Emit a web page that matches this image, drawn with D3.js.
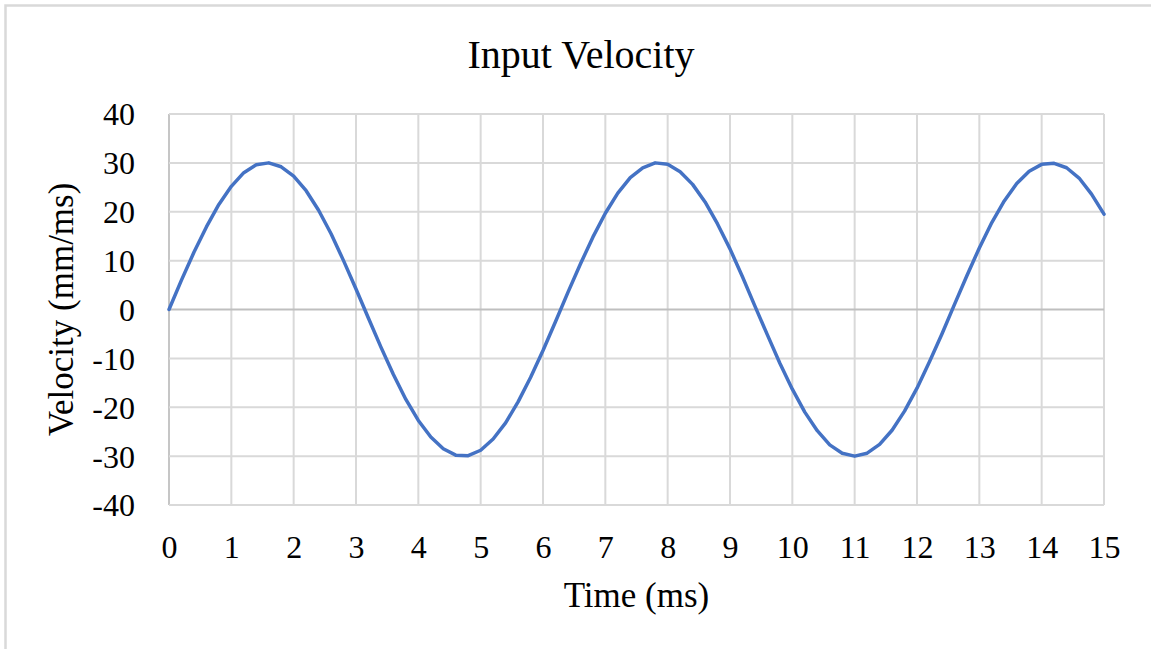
<!DOCTYPE html>
<html>
<head>
<meta charset="utf-8">
<script src="https://cdn.jsdelivr.net/npm/d3@7"></script>
<style>
  body { margin: 0; background: #fff; }
  svg { display: block; font-family: "Liberation Serif", "Times New Roman", serif; }
</style>
</head>
<body>
<div id="chart"></div>
<script>
// time samples (ms)
var timeMs = [0, 0.2, 0.4, 0.6, 0.8, 1, 1.2, 1.4, 1.6, 1.8, 2, 2.2, 2.4, 2.6, 2.8, 3, 3.2, 3.4, 3.6, 3.8,
  4, 4.2, 4.4, 4.6, 4.8, 5, 5.2, 5.4, 5.6, 5.8, 6, 6.2, 6.4, 6.6, 6.8, 7, 7.2, 7.4, 7.6, 7.8,
  8, 8.2, 8.4, 8.6, 8.8, 9, 9.2, 9.4, 9.6, 9.8, 10, 10.2, 10.4, 10.6, 10.8, 11, 11.2, 11.4, 11.6, 11.8,
  12, 12.2, 12.4, 12.6, 12.8, 13, 13.2, 13.4, 13.6, 13.8, 14, 14.2, 14.4, 14.6, 14.8, 15];

// velocity (mm/ms)
var velocity = [0, 6.0, 11.7, 16.9, 21.5, 25.2, 28.0, 29.6, 30.0, 29.2, 27.3, 24.3, 20.3, 15.5, 10.0, 4.2, -1.8, -7.7, -13.3, -18.4,
  -22.7, -26.1, -28.5, -29.8, -29.9, -28.8, -26.5, -23.2, -18.9, -13.9, -8.4, -2.5, 3.5, 9.3, 14.8, 19.7, 23.8, 27.0, 29.0, 30.0,
  29.7, 28.2, 25.6, 22.0, 17.5, 12.4, 6.7, 0.7, -5.2, -11.0, -16.3, -21.0, -24.8, -27.7, -29.4, -30.0, -29.4, -27.6, -24.7, -20.8,
  -16.1, -10.7, -5.0, 1.0, 6.9, 12.6, 17.8, 22.2, 25.8, 28.3, 29.7, 29.9, 29.0, 26.9, 23.6, 19.5];

var xTicks = [0, 1, 2, 3, 4, 5, 6, 7, 8, 9, 10, 11, 12, 13, 14, 15];
var yTicks = [-40, -30, -20, -10, 0, 10, 20, 30, 40];

var chartTitle = "Input Velocity",
    xTitle = "Time (ms)",
    yTitle = "Velocity (mm/ms)";

var width = 1151,
    height = 649,
    plot = {left: 169, right: 1104, top: 114, bottom: 505};

var svg = d3.select("#chart").append("svg")
    .attr("width", width)
    .attr("height", height);

// chart frame (only top/left fall inside the picture)
svg.append("rect")
    .attr("x", 5.5).attr("y", 5.5)
    .attr("width", 1170).attr("height", 670)
    .attr("fill", "#fff")
    .attr("stroke", "#d9d9d9")
    .attr("stroke-width", 2.5);

var x = d3.scaleLinear().domain([0, 15]).range([plot.left, plot.right]);
var y = d3.scaleLinear().domain([-40, 40]).range([plot.bottom, plot.top]);

// grid
var grid = svg.append("g");
grid.selectAll(".vg").data(xTicks).enter().append("line")
    .attr("x1", function(d){ return x(d); })
    .attr("x2", function(d){ return x(d); })
    .attr("y1", plot.top).attr("y2", plot.bottom)
    .attr("stroke", function(d){ return d === 0 ? "#c6c6c6" : "#d9d9d9"; })
    .attr("stroke-width", 2);
grid.selectAll(".hg").data(yTicks).enter().append("line")
    .attr("y1", function(d){ return y(d); })
    .attr("y2", function(d){ return y(d); })
    .attr("x1", plot.left).attr("x2", plot.right)
    .attr("stroke", function(d){ return d === 0 ? "#bfbfbf" : "#d9d9d9"; })
    .attr("stroke-width", 2);

// plain hyphen minus like the original
var fmt = function(d){ return String(d); };

var xAxis = svg.append("g")
    .attr("transform", "translate(0," + plot.bottom + ")")
    .call(d3.axisBottom(x).tickValues(xTicks).tickSize(0).tickPadding(0).tickFormat(fmt));
xAxis.select(".domain").remove();
xAxis.selectAll("text")
    .attr("y", 53).attr("dy", null)
    .attr("font-size", 32).attr("fill", "#000")
    .attr("font-family", "Liberation Serif");

var yAxis = svg.append("g")
    .attr("transform", "translate(" + plot.left + ",0)")
    .call(d3.axisLeft(y).tickValues(yTicks).tickSize(0).tickPadding(0).tickFormat(fmt));
yAxis.select(".domain").remove();
yAxis.selectAll("text")
    .attr("x", -34).attr("dy", "0.34em")
    .attr("font-size", 32).attr("fill", "#000")
    .attr("font-family", "Liberation Serif");

// the curve
var line = d3.line()
    .x(function(d, i){ return x(timeMs[i]); })
    .y(function(d){ return y(d); });

svg.append("path")
    .datum(velocity)
    .attr("d", line)
    .attr("fill", "none")
    .attr("stroke", "#4472c4")
    .attr("stroke-width", 3.5)
    .attr("stroke-linejoin", "round")
    .attr("stroke-linecap", "round");

// titles
svg.append("text")
    .attr("x", 581).attr("y", 68)
    .attr("text-anchor", "middle")
    .attr("font-size", 40)
    .text(chartTitle);

svg.append("text")
    .attr("x", (plot.left + plot.right) / 2).attr("y", 607)
    .attr("text-anchor", "middle")
    .attr("font-size", 35)
    .text(xTitle);

svg.append("text")
    .attr("transform", "translate(73," + (plot.top + plot.bottom) / 2 + ") rotate(-90)")
    .attr("text-anchor", "middle")
    .attr("font-size", 35)
    .text(yTitle);
</script>
</body>
</html>
